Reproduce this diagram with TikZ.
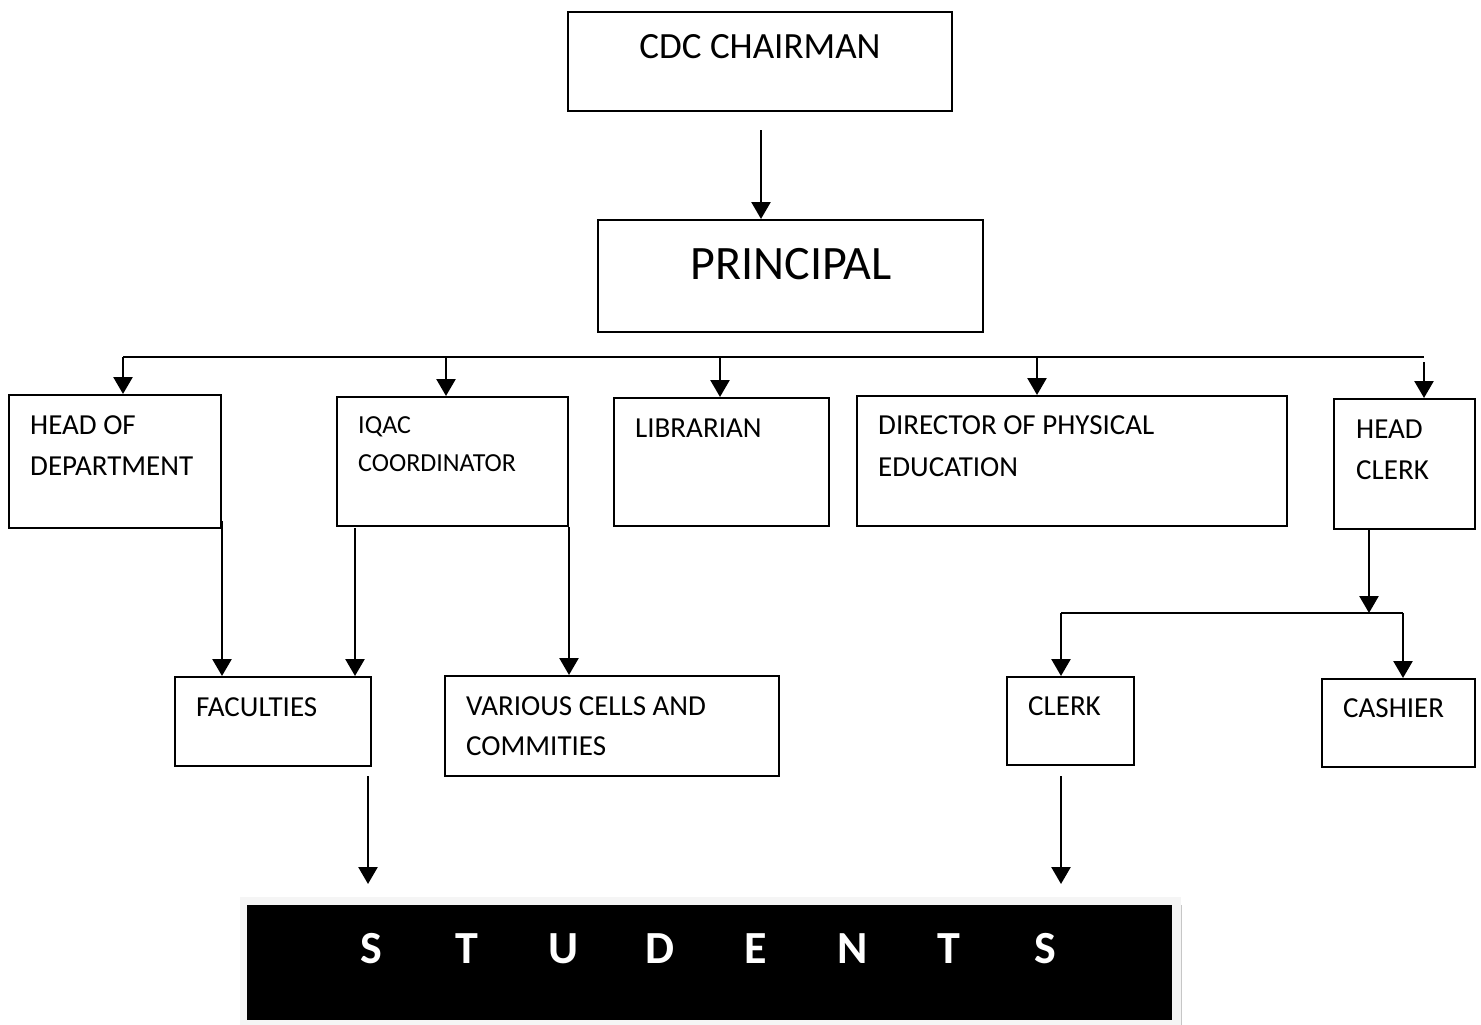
\documentclass[tikz,border=0pt]{standalone}
\usepackage{fontspec}
\setmainfont{Carlito}
\usetikzlibrary{arrows.meta}
\begin{document}
\begin{tikzpicture}[x=1pt,y=-1pt,
  box/.style={draw, line width=2pt, inner sep=0pt},
  txt/.style={anchor=base west, inner sep=0pt, font=\fontsize{29}{35}\selectfont},
  smalltxt/.style={anchor=base west, inner sep=0pt, font=\fontsize{26}{31}\selectfont},
  conn/.style={line width=2.6pt},
  arr/.style={line width=2.6pt, -{Triangle[width=19pt,length=17pt]}},
  letter/.style={anchor=base, inner sep=0pt, text=white, font=\fontsize{46}{50}\selectfont\bfseries}]
\useasboundingbox (0,0) rectangle (1481,1025);

% boxes
\node[box, minimum width=384, minimum height=99] (cdc) at (760,61.5) {};
\node[box, minimum width=385, minimum height=112] (prin) at (790.5,276) {};
\node[box, minimum width=212, minimum height=133] (hod) at (115,461.5) {};
\node[box, minimum width=231, minimum height=129] (iqac) at (452.5,461.5) {};
\node[box, minimum width=215, minimum height=128] (lib) at (721.5,462) {};
\node[box, minimum width=430, minimum height=130] (dpe) at (1072,461) {};
\node[box, minimum width=141, minimum height=130] (hc) at (1404.5,464) {};
\node[box, minimum width=196, minimum height=89] (fac) at (273,721.5) {};
\node[box, minimum width=334, minimum height=100] (cells) at (612,726) {};
\node[box, minimum width=127, minimum height=88] (clerk) at (1070.5,721) {};
\node[box, minimum width=153, minimum height=88] (cash) at (1398.5,723) {};

% texts
\node[anchor=base, inner sep=0pt, font=\fontsize{37}{40}\selectfont] (tcdc) at (760,59) {CDC CHAIRMAN};
\node[anchor=base, inner sep=0pt, font=\fontsize{48}{52}\selectfont] (tprin) at (791,279) {PRINCIPAL};
\node[txt] (thod1) at (30,434) {HEAD OF};
\node[txt] (thod2) at (30,475) {DEPARTMENT};
\node[smalltxt] (tiq1) at (358,433) {IQAC};
\node[smalltxt] (tiq2) at (358,471) {COORDINATOR};
\node[txt] (tlib) at (635,437) {LIBRARIAN};
\node[txt] (tdpe1) at (878,434) {DIRECTOR OF PHYSICAL};
\node[txt] (tdpe2) at (878,476) {EDUCATION};
\node[txt] (thc1) at (1356,438) {HEAD};
\node[txt] (thc2) at (1356,479) {CLERK};
\node[txt] (tfac) at (196,716) {FACULTIES};
\node[txt] (tcell1) at (466,715) {VARIOUS CELLS AND};
\node[txt] (tcell2) at (466,755) {COMMITIES};
\node[txt] (tclerk) at (1028,715) {CLERK};
\node[txt] (tcash) at (1343,717) {CASHIER};

% students
\node[fill=gray!8, draw=none, minimum width=941, minimum height=128, inner sep=0pt] (stframe) at (710.5,961) {};
\draw[gray!45, line width=1.2pt] (stframe.north east) ++(0,8) -- (stframe.south east);
\node[fill=black, minimum width=925, minimum height=115, inner sep=0pt] (students) at (709.5,962.5) {};
\foreach \c [count=\i] in {S,T,U,D,E,N,T,S}{
  \node[letter] (s\i) at ({371+(\i-1)*96.3},963) {\c};
}

% connectors
\coordinate (cdcout) at (761,130);
\draw[arr] (cdcout) -- (cdcout |- prin.north);

\coordinate (busL) at (123,357);
\coordinate (busR) at (1424,357);
\coordinate (bus2) at (446,357);
\coordinate (bus3) at (720,357);
\coordinate (bus4) at (1037,357);
\draw[conn] (busL) -- (busR);
\draw[arr] (busL) -- (busL |- hod.north);
\draw[arr] (bus2) -- (bus2 |- iqac.north);
\draw[arr] (bus3) -- (bus3 |- lib.north);
\draw[arr] (bus4) -- (bus4 |- dpe.north);
\coordinate (busR2) at (1424,362);
\draw[arr] (busR2) -- (busR2 |- hc.north);

\draw[arr] (hod.south east) ++(0,-8) -- (hod.south east |- fac.north);
\coordinate (iq1) at (355,528);
\draw[arr] (iq1) -- (iq1 |- fac.north);
\draw[arr] (iqac.south east) -- (iqac.south east |- cells.north);

\coordinate (hcout) at (1369,529);
\coordinate (hbus) at (1369,613);
\coordinate (hbusL) at (1061,613);
\coordinate (hbusR) at (1403,613);
\draw[arr] (hcout) -- (hbus);
\draw[conn] (hbusL) -- (hbusR);
\draw[arr] (hbusL) -- (hbusL |- clerk.north);
\draw[arr] (hbusR) -- (hbusR |- cash.north);

\coordinate (fac1) at (368,776);
\coordinate (fac2) at (368,884);
\draw[arr] (fac1) -- (fac2);
\coordinate (cl1) at (1061,776);
\coordinate (cl2) at (1061,884);
\draw[arr] (cl1) -- (cl2);
\end{tikzpicture}
\end{document}
